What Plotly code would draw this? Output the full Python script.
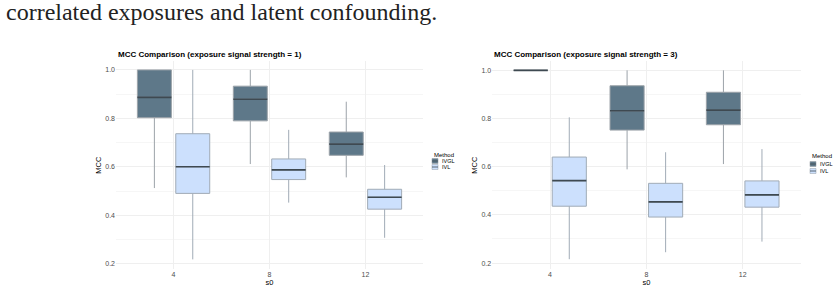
import plotly.graph_objects as go

s0 = ["4", "8", "12"]
methods = ["IVGL", "IVL"]

# Panel 1: exposure signal strength = 1
p1_ivgl_lower = [0.513, 0.612, 0.557]
p1_ivgl_q1 = [0.803, 0.790, 0.648]
p1_ivgl_med = [0.887, 0.879, 0.694]
p1_ivgl_q3 = [1.000, 0.933, 0.744]
p1_ivgl_upper = [1.000, 1.000, 0.869]

p1_ivl_lower = [0.219, 0.453, 0.308]
p1_ivl_q1 = [0.491, 0.548, 0.426]
p1_ivl_med = [0.601, 0.588, 0.475]
p1_ivl_q3 = [0.737, 0.633, 0.508]
p1_ivl_upper = [1.000, 0.753, 0.608]

# Panel 2: exposure signal strength = 3
p2_ivgl_lower = [1.000, 0.589, 0.611]
p2_ivgl_q1 = [1.000, 0.752, 0.774]
p2_ivgl_med = [1.000, 0.832, 0.835]
p2_ivgl_q3 = [1.000, 0.936, 0.909]
p2_ivgl_upper = [1.000, 1.000, 1.000]

p2_ivl_lower = [0.216, 0.245, 0.289]
p2_ivl_q1 = [0.436, 0.391, 0.432]
p2_ivl_med = [0.542, 0.454, 0.483]
p2_ivl_q3 = [0.640, 0.531, 0.541]
p2_ivl_upper = [0.805, 0.660, 0.673]

titles = ["MCC Comparison (exposure signal strength = 1)",
          "MCC Comparison (exposure signal strength = 3)"]
page_text = "correlated exposures and latent confounding."
legend_title = "Method"

fills = {"IVGL": "#5e7889", "IVL": "#cce0fd"}
outline = {"IVGL": "#9ca3a9", "IVL": "#a1abb6"}
median_col = "#3e4951"
sans = "Liberation Sans, Arial, sans-serif"

W, H = 839, 292
ytop, ybot = 60.7, 268.6
ydom = [(H - ybot) / H, (H - ytop) / H]

panels = [
    dict(xa="x", ya="y", xdom=[116 / W, 423 / W], yrange=[0.181, 1.038],
         leg=dict(x=432, ty=155, rows=[161, 167]), ytitle_x=99, title_x=116,
         data={"IVGL": (p1_ivgl_lower, p1_ivgl_q1, p1_ivgl_med, p1_ivgl_q3, p1_ivgl_upper),
               "IVL": (p1_ivl_lower, p1_ivl_q1, p1_ivl_med, p1_ivl_q3, p1_ivl_upper)}),
    dict(xa="x2", ya="y2", xdom=[492.2 / W, 800.5 / W], yrange=[0.177, 1.040],
         leg=dict(x=810, ty=156, rows=[164, 171]), ytitle_x=475, title_x=492,
         data={"IVGL": (p2_ivgl_lower, p2_ivgl_q1, p2_ivgl_med, p2_ivgl_q3, p2_ivgl_upper),
               "IVL": (p2_ivl_lower, p2_ivl_q1, p2_ivl_med, p2_ivl_q3, p2_ivl_upper)}),
]

fig = go.Figure()
annotations = [
    dict(text=page_text, xref="paper", yref="paper", x=4 / W, y=1, xanchor="left",
         yanchor="top", yshift=3, showarrow=False,
         font=dict(family="Liberation Serif, serif", size=24, color="#222222")),
]
shapes = []

for pi, p in enumerate(panels):
    for m in methods:
        lo, q1, med, q3, up = p["data"][m]
        og = f"{m}{pi}"
        fig.add_trace(go.Box(
            x=s0, q1=q1, median=med, q3=q3, lowerfence=lo, upperfence=up,
            name=m, fillcolor=fills[m], line=dict(color=outline[m], width=1),
            whiskerwidth=0, boxpoints=False, offsetgroup=og, showlegend=False,
            xaxis=p["xa"], yaxis=p["ya"], hoverinfo="skip",
        ))
        fig.add_trace(go.Box(
            x=s0, q1=med, median=med, q3=med, lowerfence=med, upperfence=med,
            name=m, fillcolor="rgba(0,0,0,0)", line=dict(color=median_col, width=1.6),
            whiskerwidth=0, boxpoints=False, offsetgroup=og, showlegend=False,
            xaxis=p["xa"], yaxis=p["ya"], hoverinfo="skip",
        ))

    # panel title
    annotations.append(dict(text=f"<b>{titles[pi]}</b>", xref="paper", yref="paper",
                            x=p["title_x"] / W, y=(H - 55) / H, xanchor="left",
                            yanchor="middle", showarrow=False,
                            font=dict(family=sans, size=8, color="black")))
    # y-axis title
    annotations.append(dict(text="MCC", xref="paper", yref="paper", textangle=-90,
                            x=p["ytitle_x"] / W, y=sum(ydom) / 2, xanchor="center",
                            yanchor="middle", showarrow=False,
                            font=dict(family=sans, size=7.5, color="black")))
    # legend (title, keys, labels)
    lg = p["leg"]
    annotations.append(dict(text=legend_title, xref="paper", yref="paper",
                            x=lg["x"] / W, y=(H - lg["ty"]) / H, xanchor="left",
                            yanchor="middle", showarrow=False,
                            font=dict(family=sans, size=6, color="black")))
    for m, ry in zip(methods, lg["rows"]):
        shapes.append(dict(type="rect", xref="paper", yref="paper",
                           x0=lg["x"] / W, x1=(lg["x"] + 6) / W,
                           y0=(H - ry - 2.5) / H, y1=(H - ry + 2.5) / H,
                           fillcolor=fills[m], line=dict(color=outline[m], width=0.6)))
        shapes.append(dict(type="line", xref="paper", yref="paper",
                           x0=lg["x"] / W, x1=(lg["x"] + 6) / W,
                           y0=(H - ry) / H, y1=(H - ry) / H,
                           line=dict(color=median_col, width=0.8)))
        annotations.append(dict(text=m, xref="paper", yref="paper",
                                x=(lg["x"] + 8) / W, y=(H - ry) / H, xanchor="left",
                                yanchor="middle", showarrow=False,
                                font=dict(family=sans, size=5.5, color="black")))

axis_common = dict(showline=False, zeroline=False, ticks="",
                   tickfont=dict(family=sans, size=7, color="#4d4d4d"),
                   gridcolor="#efefef", gridwidth=0.8)

layout_axes = {}
for pi, p in enumerate(panels):
    sfx = "" if pi == 0 else str(pi + 1)
    layout_axes["xaxis" + sfx] = dict(
        domain=p["xdom"], type="category", range=[-0.6, 2.6], anchor="y" + sfx,
        title=dict(text="s0", font=dict(size=7.5), standoff=2), **axis_common)
    layout_axes["yaxis" + sfx] = dict(
        domain=ydom, range=p["yrange"], tick0=0.2, dtick=0.2, tickformat=".1f",
        anchor="x" + sfx,
        minor=dict(showgrid=True, dtick=0.1, gridcolor="#f6f6f6", gridwidth=0.8),
        **axis_common)

fig.update_layout(
    width=W, height=H, margin=dict(l=0, r=0, t=0, b=0),
    paper_bgcolor="white", plot_bgcolor="white",
    boxmode="group", boxgap=0.2, boxgroupgap=0.115,
    font=dict(family=sans, color="black"),
    showlegend=False,
    annotations=annotations, shapes=shapes,
    **layout_axes,
)

fig.write_html("out.html")
